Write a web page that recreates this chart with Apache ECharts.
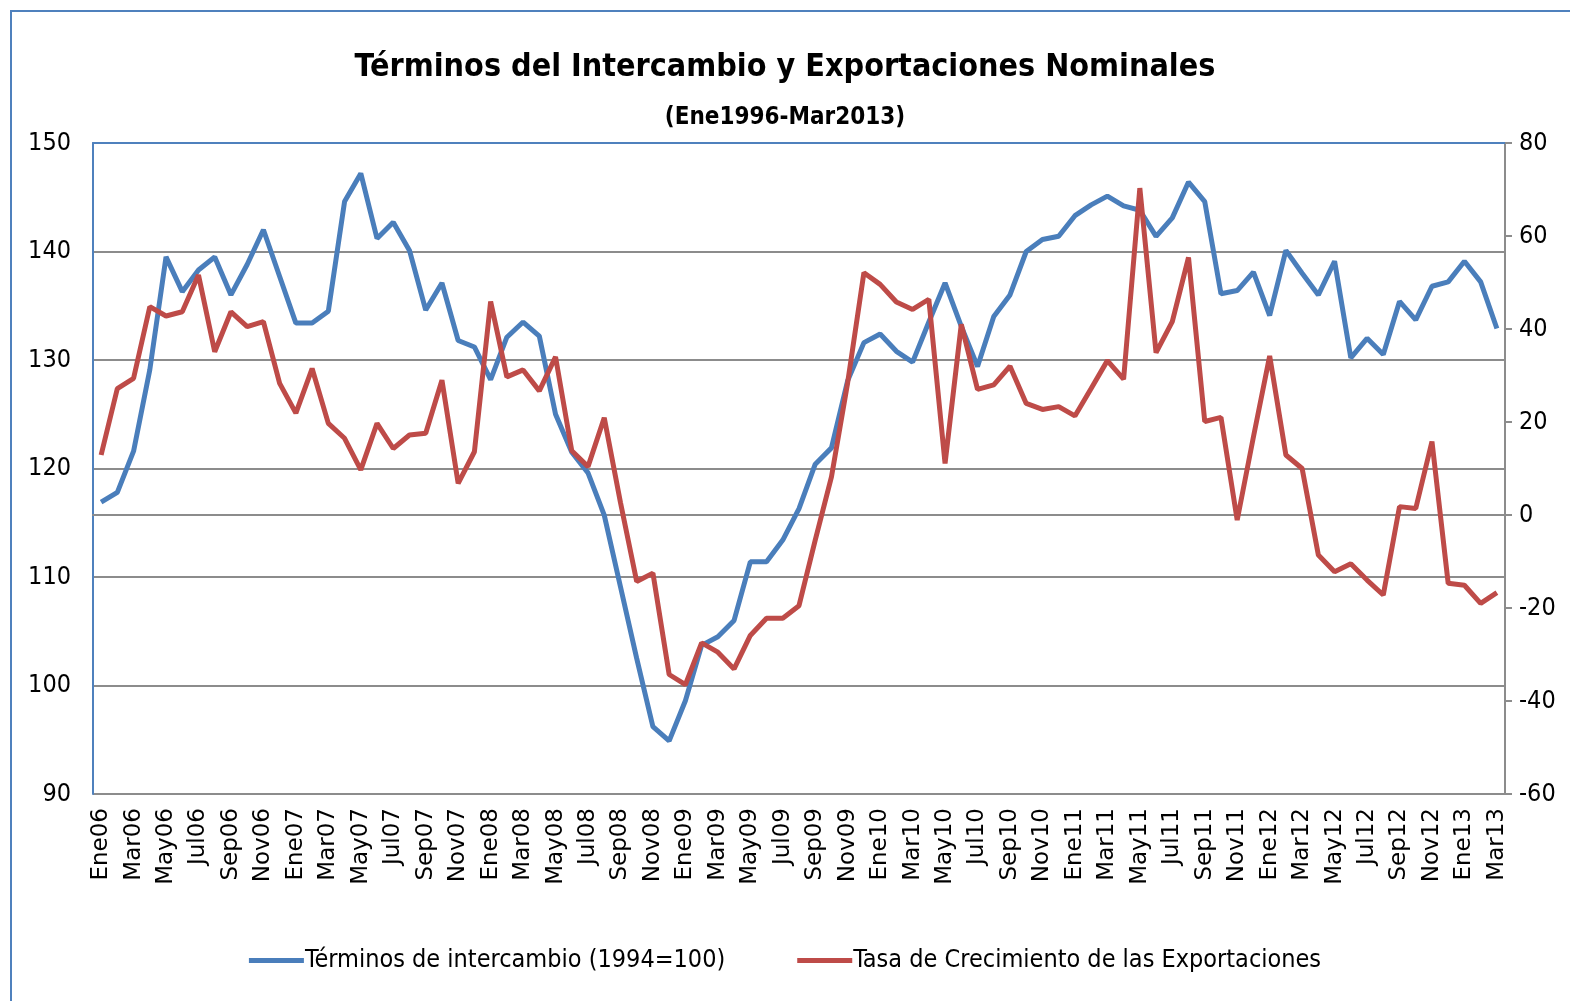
<!DOCTYPE html>
<html>
<head>
<meta charset="utf-8">
<script src="https://cdn.jsdelivr.net/npm/echarts@6/dist/echarts.min.js"></script>
<style>
  html, body { margin: 0; padding: 0; background: #fff; }
  #chart { width: 1570px; height: 1001px; }
</style>
</head>
<body>
<div id="chart"></div>
<script>
// meses y años del eje x
const monthNames = ['Ene','Feb','Mar','Abr','May','Jun','Jul','Ago','Sep','Oct','Nov','Dic'];
const years = ['06','07','08','09','10','11','12','13'];
const lastMonths = 3; // 2013 llega hasta Mar

// Términos de intercambio (1994=100), eje izquierdo
const terminos = [
  116.9,117.8,121.6,129.1,139.5,136.3,138.3,139.5,136.0,138.8,142.0,137.7,
  133.4,133.4,134.5,144.6,147.2,141.2,142.7,140.1,134.6,137.1,131.8,131.2,
  128.2,132.1,133.5,132.2,125.0,121.5,119.6,115.7,109.1,102.5,96.2,94.9,
  98.6,103.7,104.5,106.0,111.4,111.4,113.4,116.3,120.4,121.9,128.1,131.6,
  132.4,130.8,129.8,133.5,137.1,133.1,129.4,134.0,136.0,140.0,141.1,141.4,
  143.3,144.3,145.1,144.2,143.8,141.4,143.1,146.4,144.6,136.1,136.4,138.1,
  134.1,140.1,138.0,136.0,139.1,130.2,132.0,130.5,135.4,133.7,136.8,137.2,
  139.1,137.2,132.9
];

// Tasa de crecimiento de las exportaciones (%), eje derecho
const exportaciones = [
  12.9,27.2,29.4,44.8,42.8,43.7,51.6,35.1,43.7,40.5,41.6,28.3,
  21.9,31.5,19.7,16.5,9.7,19.7,14.3,17.2,17.6,29.0,6.8,13.6,
  45.9,29.7,31.2,26.7,34.0,13.8,10.4,20.9,2.7,-14.3,-12.5,-34.3,
  -36.5,-27.5,-29.5,-33.1,-25.9,-22.2,-22.2,-19.5,-5.4,8.2,28.5,52.1,
  49.6,45.8,44.2,46.4,11.1,41.0,27.0,28.0,32.0,24.0,22.7,23.3,
  21.3,27.2,33.2,29.2,70.3,34.9,41.6,55.4,20.1,21.0,-1.1,16.8,
  34.2,12.9,10.0,-8.6,-12.2,-10.5,-14.0,-17.2,1.8,1.4,15.8,-14.7,
  -15.1,-19.0,-16.7
];

const categorias = [];
years.forEach((y, k) => {
  const n = k === years.length - 1 ? lastMonths : 12;
  for (let m = 0; m < n; m++) categorias.push(monthNames[m] + y);
});

const narrow = '"Liberation Sans Narrow", "DejaVu Sans Condensed", Roboto, sans-serif';
const blue = '#4a7ebb';
const red = '#be4b48';
const frame = '#4f81bd';
const grey = '#8c8c8c';

const chart = echarts.init(document.getElementById('chart'));
chart.setOption({
  animation: false,
  backgroundColor: '#fff',
  graphic: [{
    type: 'rect',
    shape: { x: 11, y: 11, width: 1700, height: 1200 },
    style: { fill: 'none', stroke: frame, lineWidth: 2 },
    silent: true
  }],
  title: {
    text: 'Términos del Intercambio y Exportaciones Nominales',
    subtext: '(Ene1996-Mar2013)',
    left: 'center',
    top: 47,
    itemGap: 22,
    textStyle: { fontFamily: narrow, fontWeight: 'bold', fontSize: 32, color: '#000' },
    subtextStyle: { fontFamily: narrow, fontWeight: 'bold', fontSize: 24, color: '#000' }
  },
  legend: {
    bottom: 23,
    left: 'center',
    icon: 'rect',
    itemWidth: 55,
    itemHeight: 5,
    itemGap: 72,
    textStyle: { fontFamily: narrow, fontSize: 25, color: '#000', padding: [0, 0, 0, -4] },
    data: ['Términos de intercambio (1994=100)', 'Tasa de Crecimiento de las Exportaciones']
  },
  grid: { left: 93, right: 65, top: 143, bottom: 207 },
  xAxis: [{
    type: 'category',
    data: categorias,
    boundaryGap: true,
    axisLine: { lineStyle: { color: grey, width: 2 } },
    axisTick: { show: false },
    axisLabel: {
      interval: 1,
      rotate: 90,
      margin: 14,
      fontFamily: 'DejaVu Sans, Verdana, sans-serif',
      fontSize: 23,
      color: '#000'
    }
  }, {
    type: 'category',
    position: 'top',
    data: categorias,
    axisLine: { lineStyle: { color: frame, width: 2 } },
    axisTick: { show: false },
    axisLabel: { show: false }
  }],
  yAxis: [{
    type: 'value',
    min: 90,
    max: 150,
    interval: 10,
    axisLine: { show: true, lineStyle: { color: frame, width: 2 } },
    axisTick: { show: false },
    splitLine: { lineStyle: { color: grey, width: 2 } },
    axisLabel: { fontFamily: narrow, fontSize: 25, color: '#000', margin: 22 }
  }, {
    type: 'value',
    min: -60,
    max: 80,
    interval: 20,
    position: 'right',
    axisLine: { show: true, lineStyle: { color: grey, width: 2 } },
    axisTick: { show: true, length: 7, lineStyle: { color: grey, width: 2 } },
    splitLine: { show: false },
    axisLabel: { fontFamily: narrow, fontSize: 25, color: '#000', margin: 14 }
  }],
  series: [{
    name: 'Términos de intercambio (1994=100)',
    type: 'line',
    yAxisIndex: 0,
    data: terminos,
    symbol: 'none',
    color: blue,
    lineStyle: { width: 5, color: blue }
  }, {
    name: 'Tasa de Crecimiento de las Exportaciones',
    type: 'line',
    yAxisIndex: 1,
    data: exportaciones,
    symbol: 'none',
    color: red,
    lineStyle: { width: 5, color: red }
  }]
});
</script>
</body>
</html>
